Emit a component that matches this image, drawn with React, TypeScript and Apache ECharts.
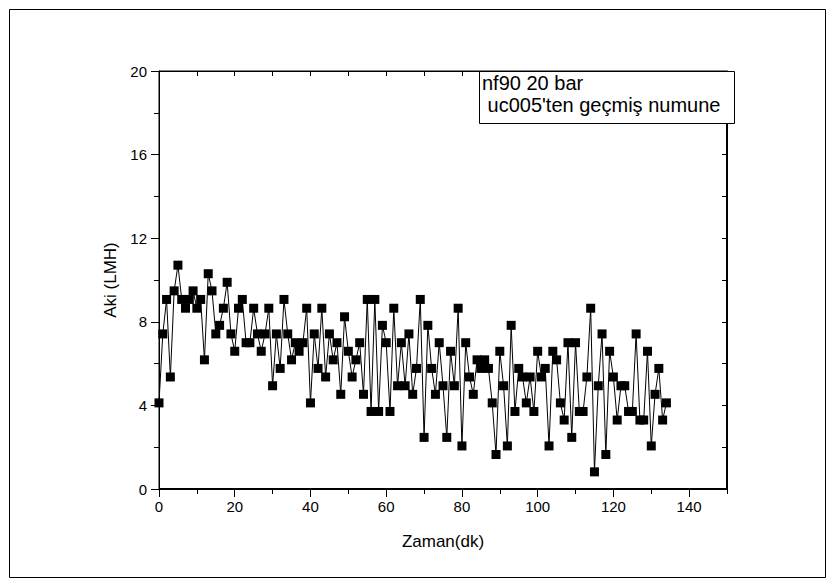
import React, { useEffect, useRef } from "react";
import * as echarts from "echarts";

// Time (minutes)
const times = [
  0, 1, 2, 3, 4, 5, 6, 7, 8, 9, 10, 11, 12, 13, 14, 15, 16, 17, 18, 19,
  20, 21, 22, 23, 24, 25, 26, 27, 28, 29, 30, 31, 32, 33, 34, 35, 36, 37, 38, 39,
  40, 41, 42, 43, 44, 45, 46, 47, 48, 49, 50, 51, 52, 53, 54, 55, 56, 57, 58, 59,
  60, 61, 62, 63, 64, 65, 66, 67, 68, 69, 70, 71, 72, 73, 74, 75, 76, 77, 78, 79,
  80, 81, 82, 83, 84, 85, 86, 87, 88, 89, 90, 91, 92, 93, 94, 95, 96, 97, 98, 99,
  100, 101, 102, 103, 104, 105, 106, 107, 108, 109, 110, 111, 112, 113, 114, 115, 116, 117, 118, 119,
  120, 121, 122, 123, 124, 125, 126, 127, 128, 129, 130, 131, 132, 133, 134,
];

// Flux (LMH)
const flux = [
  4.12, 7.42, 9.07, 5.36, 9.48, 10.71, 9.07, 8.65, 9.07, 9.48, 8.65, 9.07, 6.18, 10.3, 9.48, 7.42, 7.83, 8.65, 9.89, 7.42,
  6.59, 8.65, 9.07, 7.0, 7.0, 8.65, 7.42, 6.59, 7.42, 8.65, 4.94, 7.42, 5.77, 9.07, 7.42, 6.18, 7.0, 6.59, 7.0, 8.65,
  4.12, 7.42, 5.77, 8.65, 5.36, 7.42, 6.18, 7.0, 4.53, 8.24, 6.59, 5.36, 6.18, 7.0, 4.53, 9.07, 3.71, 9.07, 3.71, 7.83,
  7.0, 3.71, 8.65, 4.94, 7.0, 4.94, 7.42, 4.53, 5.77, 9.07, 2.47, 7.83, 5.77, 4.53, 7.0, 4.94, 2.47, 6.59, 4.94, 8.65,
  2.06, 7.0, 5.36, 4.53, 6.18, 5.77, 6.18, 5.77, 4.12, 1.65, 6.59, 4.94, 2.06, 7.83, 3.71, 5.77, 5.36, 4.12, 5.36, 3.71,
  6.59, 5.36, 5.77, 2.06, 6.59, 6.18, 4.12, 3.3, 7.0, 2.47, 7.0, 3.71, 3.71, 5.36, 8.65, 0.82, 4.94, 7.42, 1.65, 6.59,
  5.36, 3.3, 4.94, 4.94, 3.71, 3.71, 7.42, 3.3, 3.3, 6.59, 2.06, 4.53, 5.77, 3.3, 4.12,
];

const xTickValues = [0, 20, 40, 60, 80, 100, 120, 140];
const xMinorTickValues = [10, 30, 50, 70, 90, 110, 130, 150];
const yTickValues = [0, 4, 8, 12, 16, 20];
const legendLines = ["nf90 20 bar", " uc005'ten geçmiş numune"];
const xTitle = "Zaman(dk)";
const yTitle = "Aki (LMH)";

const FONT = "'Liberation Sans', Arial, Helvetica, sans-serif";

export default function App() {
  const ref = useRef<HTMLDivElement>(null);

  useEffect(() => {
    document.body.style.margin = "0";
    const chart = echarts.init(ref.current!, null, { renderer: "svg" });
    const black = "#000";
    const line = { show: true, onZero: false, lineStyle: { color: black, width: 1 } };
    chart.setOption({
      animation: false,
      backgroundColor: "#fff",
      textStyle: { fontFamily: FONT },
      grid: {
        left: 159,
        top: 71,
        width: 568,
        height: 418,
        containLabel: false,
        show: true,
        borderColor: black,
        borderWidth: 1,
        backgroundColor: "transparent",
      },
      xAxis: [
        {
          type: "value",
          min: 0,
          max: 150,
          position: "bottom",
          name: xTitle,
          nameLocation: "middle",
          nameGap: 44,
          nameTextStyle: { fontSize: 17, color: black, fontFamily: FONT },
          axisLine: line,
          axisTick: { show: true, customValues: xTickValues, length: 8, lineStyle: { color: black, width: 1 } },
          axisLabel: { customValues: xTickValues, fontSize: 15, color: black, margin: 10, fontFamily: FONT },
          splitLine: { show: false },
        },
        {
          type: "value",
          min: 0,
          max: 150,
          position: "bottom",
          axisLine: { show: false, onZero: false },
          axisTick: { show: true, customValues: xMinorTickValues, length: 5, lineStyle: { color: black, width: 1 } },
          axisLabel: { show: false },
          splitLine: { show: false },
        },
        {
          type: "value",
          min: 0,
          max: 150,
          position: "top",
          axisLine: line,
          axisTick: {
            show: true,
            inside: true,
            customValues: [...xTickValues, ...xMinorTickValues],
            length: 5,
            lineStyle: { color: black, width: 1 },
          },
          axisLabel: { show: false },
          splitLine: { show: false },
        },
      ],
      yAxis: [
        {
          type: "value",
          min: 0,
          max: 20,
          interval: 4,
          position: "left",
          name: yTitle,
          nameLocation: "middle",
          nameGap: 31,
          nameRotate: 90,
          nameTextStyle: { fontSize: 17, color: black, fontFamily: FONT },
          axisLine: line,
          axisTick: { show: true, customValues: yTickValues, length: 8, lineStyle: { color: black, width: 1 } },
          minorTick: { show: true, splitNumber: 2, length: 5, lineStyle: { color: black, width: 1 } },
          axisLabel: { customValues: yTickValues, fontSize: 15, color: black, margin: 12, fontFamily: FONT },
          splitLine: { show: false },
          minorSplitLine: { show: false },
        },
        {
          type: "value",
          min: 0,
          max: 20,
          interval: 2,
          position: "right",
          axisLine: line,
          axisTick: { show: true, inside: true, length: 5, lineStyle: { color: black, width: 1 } },
          axisLabel: { show: false },
          splitLine: { show: false },
        },
      ],
      series: [
        {
          name: legendLines[0],
          type: "line",
          xAxisIndex: 0,
          yAxisIndex: 0,
          data: times.map((t, i) => [t, flux[i]]),
          symbol: "rect",
          symbolSize: 9,
          showSymbol: true,
          itemStyle: { color: black },
          lineStyle: { color: black, width: 1 },
          z: 3,
        },
      ],
      graphic: [
        {
          type: "rect",
          shape: { x: 9.5, y: 9.5, width: 816, height: 568 },
          style: { fill: "none", stroke: black, lineWidth: 1 },
          silent: true,
          z: 0,
        },
        {
          type: "rect",
          shape: { x: 159.5, y: 71.5, width: 567, height: 417 },
          style: { fill: "none", stroke: black, lineWidth: 1 },
          silent: true,
          z: 1,
        },
        {
          type: "rect",
          shape: { x: 479.5, y: 71.5, width: 255, height: 52 },
          style: { fill: "#fff", stroke: black, lineWidth: 1 },
          z: 10,
        },
        {
          type: "text",
          x: 482,
          y: 73,
          style: { text: legendLines[0], fontSize: 20, fill: black, fontFamily: FONT },
          z: 11,
        },
        {
          type: "text",
          x: 482,
          y: 95,
          style: { text: legendLines[1], fontSize: 20, fill: black, fontFamily: FONT },
          z: 11,
        },
      ],
    });
    return () => chart.dispose();
  }, []);

  return <div ref={ref} style={{ width: 834, height: 587 }} />;
}
